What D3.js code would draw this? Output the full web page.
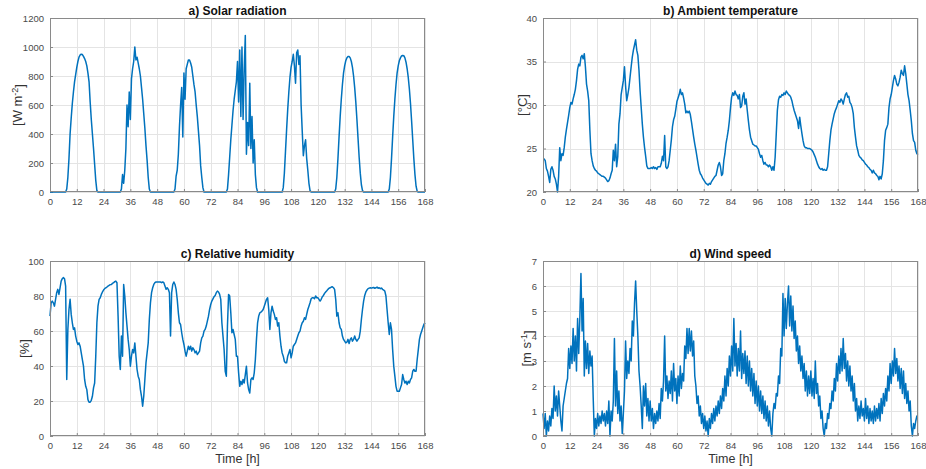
<!DOCTYPE html>
<html>
<head>
<meta charset="utf-8">
<script src="https://cdn.jsdelivr.net/npm/d3@7"></script>
<style>
  html, body { margin: 0; padding: 0; background: #fff; }
  svg { display: block; font-family: "Liberation Sans", Arial, Helvetica, sans-serif; }
</style>
</head>
<body>
<svg id="chart" width="926" height="469"></svg>
<script>
// Weekly weather record, one value every half hour (48 per day, last day also holds t = 168 h).
const hourTicks = [0, 12, 24, 36, 48, 60, 72, 84, 96, 108, 120, 132, 144, 156, 168];

const solarTicks = [0, 200, 400, 600, 800, 1000, 1200];
const tempTicks = [20, 25, 30, 35, 40];
const humidityTicks = [0, 20, 40, 60, 80, 100];
const windTicks = [0, 1, 2, 3, 4, 5, 6, 7];

// Solar radiation [W m-2]
const solarRadiation = [
  [0,0,0,0,0,0,0,0,0,0,0,0,
   0,0,0,20,100,230,400,510,610,690,760,810,
   860,900,930,945,950,948,935,920,900,870,820,760,
   620,500,400,300,190,80,10,0,0,0,0,0],
  [0,0,0,0,0,0,0,0,0,0,0,0,
   0,0,0,0,20,120,60,150,300,600,450,690,
   500,780,850,900,1000,910,930,890,850,800,720,640,
   540,440,320,220,100,20,0,0,0,0,0,0],
  [0,0,0,0,0,0,0,0,0,0,0,0,
   0,0,0,0,20,110,150,260,450,600,720,380,
   820,640,850,880,910,910,890,860,800,740,690,600,
   520,420,320,180,100,30,0,0,0,0,0,0],
  [0,0,0,0,0,0,0,0,0,0,0,0,
   0,0,0,20,120,240,360,460,560,640,700,760,
   900,620,980,520,1000,500,850,1080,260,480,320,750,
   300,520,200,360,120,30,0,0,0,0,0,0],
  [0,0,0,0,0,0,0,0,0,0,0,0,
   0,0,0,0,0,30,130,280,430,570,690,790,
   860,900,950,870,750,960,980,880,940,600,420,250,
   320,360,230,150,60,10,0,0,0,0,0,0],
  [0,0,0,0,0,0,0,0,0,0,0,0,
   0,0,0,0,20,100,230,380,520,640,740,820,
   870,905,925,935,935,925,900,860,800,720,620,500,
   370,240,130,50,10,0,0,0,0,0,0,0],
  [0,0,0,0,0,0,0,0,0,0,0,0,
   0,0,0,0,20,100,230,380,520,640,740,820,
   870,905,925,938,942,940,925,895,850,790,710,610,
   490,360,230,120,40,5,0,0,0,0,0,0,0]
];

// Ambient temperature [°C]
const ambientTemperature = [
  [23.8,23.8,23.6,22.7,22.4,21.8,21.1,22.6,22.9,22.5,21.8,21.5,
   20.9,20.0,21.8,25.1,23.6,24.4,24.2,25.1,26.3,27.2,28.0,28.8,
   29.7,30.3,30.1,30.7,31.2,31.8,32.8,34.1,34.7,34.5,35.5,35.7,
   35.3,35.9,34.4,32.4,31.6,30.5,27.1,24.4,23.6,23.0,22.7,22.5],
  [22.4,22.2,22.1,22.0,21.9,21.8,21.8,21.7,21.6,21.4,21.2,21.3,
   21.6,22.1,22.5,24.8,23.6,25.5,22.9,24.1,27.8,29.0,31.2,32.0,
   32.8,34.4,32.2,30.5,31.2,32.0,33.2,34.4,35.5,36.3,36.9,37.5,
   36.3,35.7,34.0,31.6,29.7,27.8,26.3,25.1,24.1,23.0,22.7,22.7],
  [22.7,22.8,22.7,22.9,22.7,22.8,22.6,22.9,22.9,22.9,23.3,24.1,
   23.6,26.5,22.9,22.7,22.9,23.6,24.8,26.0,27.5,28.3,28.7,29.5,
   30.4,30.8,31.2,31.8,31.2,31.4,30.8,30.1,29.1,29.3,29.1,29.3,
   28.9,28.1,27.2,26.3,25.5,24.8,24.0,23.2,22.5,22.1,21.9,21.6],
  [21.4,21.2,21.0,20.9,20.8,21.0,20.9,21.2,21.4,21.6,21.8,21.9,
   22.5,23.1,23.4,22.9,21.9,22.1,23.6,24.4,25.6,26.3,27.1,28.2,
   29.7,30.9,31.4,31.1,31.6,31.2,31.1,30.7,31.2,29.7,29.9,31.0,
   31.4,30.1,30.7,29.4,28.2,27.1,26.3,25.9,25.5,25.4,25.3,25.3],
  [25.1,24.9,24.4,24.0,24.2,23.6,23.2,23.4,23.1,23.1,22.9,23.1,
   22.9,22.5,22.9,22.5,24.0,26.7,29.4,30.6,31.0,30.9,31.2,31.1,
   31.4,31.2,31.6,31.4,31.2,31.1,30.9,30.5,29.9,29.4,29.0,28.6,
   28.2,27.3,28.6,27.6,26.7,25.9,25.3,25.1,25.1,25.0,25.0,25.0],
  [24.9,24.8,24.6,24.3,24.0,23.6,23.2,22.9,22.7,22.6,22.7,22.5,
   22.6,22.5,22.5,22.9,24.4,25.9,27.1,27.8,28.4,29.0,29.4,29.7,
   30.1,30.5,30.3,30.7,30.5,30.1,30.7,31.2,31.4,30.9,31.0,30.3,
   30.1,29.7,29.0,27.4,26.3,25.3,24.8,24.2,24.0,23.9,23.7,23.6],
  [23.4,23.2,23.1,22.9,22.8,22.6,22.5,22.2,22.5,22.2,22.1,21.9,
   21.8,21.4,21.8,21.5,22.1,23.6,25.9,27.1,27.4,27.8,29.7,30.7,
   31.2,32.0,32.8,33.4,33.0,32.4,32.2,32.6,33.2,34.0,33.6,33.4,
   34.5,33.6,32.4,31.2,30.5,29.4,28.2,26.7,25.9,25.7,24.8,24.4,24.3]
];

// Relative humidity [%]
const relativeHumidity = [
  [68.5,76.1,77.1,76.1,74.2,78.1,81.9,83.8,80.9,84.7,88.5,89.9,
   90.5,89.9,85.7,32.3,60.9,72.3,78.1,69.5,64.7,60.9,61.8,57.1,
   54.2,52.3,53.2,51.3,47.5,43.7,39.9,32.3,28.4,26.5,20.8,19.3,
   19.3,20.4,22.7,27.5,30.3,45.6,64.7,74.2,78.1,79.0,80.9,82.3],
  [83.4,84.2,84.7,85.1,85.7,86.1,86.5,86.6,87.2,87.6,88.2,88.5,
   87.6,68.5,45.6,38.0,57.1,45.6,86.6,80.0,70.4,62.8,55.2,49.4,
   39.9,45.6,49.4,47.5,53.2,45.6,38.0,34.2,32.3,26.5,22.7,17.0,
   22.7,32.3,41.8,47.5,53.2,66.6,76.1,81.9,84.7,86.6,87.6,88.0],
  [88.0,88.0,88.0,88.0,87.6,88.0,87.6,85.7,83.8,84.7,83.8,81.9,
   57.1,81.9,86.6,88.0,86.6,83.8,78.1,70.4,64.7,63.7,59.0,55.2,
   52.3,48.5,45.6,48.5,51.3,49.4,51.3,48.5,50.4,49.4,47.5,48.5,
   46.6,47.5,48.5,53.2,56.1,57.1,59.9,60.9,62.8,65.6,68.5,72.3],
  [75.2,77.1,78.4,79.6,80.3,81.9,82.8,82.3,80.9,78.1,64.7,57.1,
   49.4,37.0,34.2,62.8,80.9,80.0,70.4,59.0,60.9,58.0,55.2,45.6,
   45.6,36.1,28.4,31.3,29.4,32.3,30.3,35.1,39.9,30.3,26.5,24.6,
   32.3,33.2,32.3,36.1,43.7,55.2,64.7,68.5,70.4,70.8,71.4,72.3],
  [74.2,76.1,78.1,79.0,72.3,60.9,70.4,74.2,71.4,69.5,66.6,67.6,
   62.8,64.7,57.1,51.3,47.5,45.6,42.7,41.8,41.8,45.6,47.5,49.4,
   44.7,47.5,51.3,52.3,53.2,55.2,57.1,59.0,59.9,62.8,64.7,65.6,
   67.6,66.6,69.5,72.3,74.2,76.1,78.4,79.0,79.0,78.4,80.0,79.0],
  [79.0,78.1,77.1,78.1,79.6,80.3,81.5,82.3,83.0,83.8,84.4,84.7,
   85.1,85.3,84.7,83.8,78.1,68.5,70.4,64.7,61.8,60.9,57.1,55.2,
   54.2,53.2,53.6,55.2,52.9,55.2,56.1,54.2,55.2,57.1,55.2,54.2,
   55.2,56.1,59.9,66.6,72.3,77.1,80.3,82.3,83.4,84.2,84.5,84.7],
  [84.5,84.7,84.9,84.4,84.7,85.1,84.4,84.7,84.2,84.5,83.8,83.4,
   82.8,80.0,72.3,64.7,58.0,64.7,60.9,49.4,39.9,34.2,28.4,25.6,
   25.6,25.6,27.5,29.4,35.1,32.3,30.3,31.3,29.4,31.3,30.3,32.3,
   33.2,37.0,38.0,37.0,37.0,43.7,49.4,55.2,58.0,59.9,61.8,63.7,64.7]
];

// Wind speed [m s-1]
const windSpeed = [
  [0.9,0.3,0.9,0.0,0.6,0.2,0.8,0.4,1.1,0.7,2.0,1.0,
   1.6,0.8,1.8,1.2,0.6,0.2,1.2,1.5,1.8,2.1,2.3,3.5,
   2.7,3.6,2.9,4.3,3.0,4.0,2.6,4.7,3.3,4.7,6.5,4.2,
   5.5,2.4,3.8,2.7,3.7,2.5,3.4,2.8,3.2,1.5,0.0,0.7],
  [0.3,0.9,0.4,0.8,0.5,1.0,0.6,0.9,0.4,1.0,0.5,1.4,
   0.0,1.0,0.6,1.4,3.9,1.2,2.6,0.9,1.8,0.6,1.2,0.1,
   0.9,1.8,3.8,2.3,3.0,2.5,3.5,3.0,4.6,4.0,5.3,6.2,
   5.0,4.0,2.6,2.0,1.2,0.3,2.0,1.2,2.1,0.8,1.5,0.6],
  [1.4,0.6,1.1,0.3,0.9,0.5,1.0,0.6,1.3,0.7,1.9,1.4,
   2.2,4.0,1.8,2.4,1.5,2.2,1.7,2.6,1.4,2.9,1.8,2.3,
   1.3,2.4,1.6,2.8,1.9,2.5,2.2,3.6,3.1,4.3,3.3,4.3,
   3.4,4.2,3.2,3.8,2.4,2.0,1.3,1.6,0.8,1.2,0.5,0.9],
  [0.3,0.8,0.2,0.6,0.0,0.7,0.3,0.9,0.5,1.1,0.6,1.2,
   0.8,1.4,0.9,1.6,1.1,1.9,1.4,2.4,1.6,2.7,2.0,3.2,
   2.4,3.6,2.6,4.7,2.8,3.7,2.4,3.5,2.6,4.2,2.3,3.3,
   2.5,3.4,2.1,3.2,2.0,3.0,1.8,2.7,1.6,2.5,1.3,2.2],
  [1.2,2.0,1.0,1.8,0.9,1.6,0.7,1.4,0.6,1.2,0.4,1.0,
   0.3,0.0,0.9,1.3,1.1,1.7,1.6,2.4,2.1,3.5,3.2,5.7,
   4.0,5.5,4.3,5.3,6.0,4.4,5.6,4.2,5.2,3.9,4.6,3.4,
   4.0,2.9,3.6,2.6,3.2,2.3,2.9,1.8,2.6,1.6,2.4,1.7],
  [2.6,1.6,2.3,1.5,3.0,1.7,2.1,1.2,1.6,0.7,1.0,0.3,
   0.0,0.5,0.3,0.9,0.7,1.3,1.1,1.8,1.4,2.3,1.8,2.9,
   2.2,3.2,2.5,3.5,2.6,3.9,2.7,3.3,2.2,3.0,2.0,2.8,
   1.8,2.4,1.4,2.1,1.0,1.5,0.6,1.2,0.7,1.4,0.8,1.1],
  [0.6,1.5,0.7,1.2,0.5,1.1,0.6,1.0,0.5,1.2,0.6,1.1,
   0.7,1.3,0.6,1.5,0.9,1.7,1.2,1.9,1.4,2.4,1.8,2.9,
   2.1,3.0,2.4,3.5,2.5,3.1,2.2,2.8,1.9,2.7,1.7,2.6,
   1.5,2.1,1.3,1.8,1.0,1.4,0.4,0.0,0.5,0.3,0.6,0.8,0.8]
];

// Turn the per-day rows into [hour, value] pairs.
function toSeries(days) {
  const pts = [];
  days.forEach((row, d) => row.forEach((v, j) => pts.push([d * 24 + j * 0.5, v])));
  return pts;
}

const svg = d3.select("#chart");
const lineColor = "#0072BD";
const frameColor = "#8a8a8a";
const gridColor = "#e4e4e4";
const labelColor = "#4a4a4a";

function drawPanel(p) {
  const x = d3.scaleLinear().domain([0, 168]).range([p.left, p.right]);
  const y = d3.scaleLinear().domain(p.yDomain).range([p.bottom, p.top]);
  const g = svg.append("g");

  // grid
  g.append("g").selectAll("line.vx").data(hourTicks).join("line")
    .attr("x1", d => Math.round(x(d)) + 0.5).attr("x2", d => Math.round(x(d)) + 0.5)
    .attr("y1", p.top).attr("y2", p.bottom)
    .attr("stroke", gridColor).attr("stroke-width", 1);
  g.append("g").selectAll("line.hy").data(p.yTicks).join("line")
    .attr("x1", p.left).attr("x2", p.right)
    .attr("y1", d => Math.round(y(d)) + 0.5).attr("y2", d => Math.round(y(d)) + 0.5)
    .attr("stroke", gridColor).attr("stroke-width", 1);

  // axes with inward ticks
  const xAxis = d3.axisBottom(x).tickValues(hourTicks).tickSize(-3).tickPadding(7).tickFormat(d3.format("d"));
  const yAxis = d3.axisLeft(y).tickValues(p.yTicks).tickSize(-3).tickPadding(6).tickFormat(d3.format("d"));
  const xa = g.append("g").attr("transform", `translate(0,${p.bottom})`).call(xAxis);
  const ya = g.append("g").attr("transform", `translate(${p.left},0)`).call(yAxis);
  [xa, ya].forEach(a => {
    a.select(".domain").remove();
    a.selectAll(".tick line").attr("stroke", frameColor);
    a.selectAll(".tick text").attr("fill", labelColor)
      .attr("font-size", "9.5px").attr("font-family", "Liberation Sans, Arial, sans-serif");
  });
  xa.selectAll(".tick text").attr("dy", "0.71em").attr("y", 6);

  // data line
  const line = d3.line().x(d => x(d[0])).y(d => y(d[1]));
  g.append("path").datum(toSeries(p.values))
    .attr("d", line).attr("fill", "none")
    .attr("stroke", lineColor).attr("stroke-width", 1.5).attr("stroke-linejoin", "round");

  // box
  g.append("rect")
    .attr("x", p.left + 0.5).attr("y", p.top + 0.5)
    .attr("width", p.right - p.left - 1).attr("height", p.bottom - p.top - 1)
    .attr("fill", "none").attr("stroke", frameColor).attr("stroke-width", 1);

  // title
  g.append("text").attr("x", (p.left + p.right) / 2).attr("y", p.top - 3)
    .attr("text-anchor", "middle").attr("font-weight", "bold").attr("font-size", "12px")
    .attr("fill", "#111").text(p.title);

  // y label (with optional superscript)
  const yl = g.append("text")
    .attr("transform", `translate(${p.yLabelX},${(p.top + p.bottom) / 2}) rotate(-90)`)
    .attr("text-anchor", "middle").attr("dy", "0.35em")
    .attr("font-size", "13px").attr("fill", "#333");
  yl.append("tspan").text(p.yLabel[0]);
  if (p.yLabel[1]) {
    yl.append("tspan").attr("dy", "-0.45em").attr("font-size", "9px").text(p.yLabel[1]);
    yl.append("tspan").attr("dy", "0.45em").text(p.yLabel[2]);
  }

  if (p.xLabel) {
    g.append("text").attr("x", (p.left + p.right) / 2).attr("y", 463)
      .attr("text-anchor", "middle").attr("font-size", "12.5px").attr("fill", "#333")
      .text(p.xLabel);
  }
}

drawPanel({
  title: "a) Solar radiation", values: solarRadiation,
  left: 50, right: 425, top: 18, bottom: 192,
  yDomain: [0, 1200], yTicks: solarTicks,
  yLabel: ["[W m", "-2", "]"], yLabelX: 17.5
});
drawPanel({
  title: "b) Ambient temperature", values: ambientTemperature,
  left: 543, right: 918, top: 18, bottom: 192,
  yDomain: [20, 40], yTicks: tempTicks,
  yLabel: ["[°C]"], yLabelX: 522
});
drawPanel({
  title: "c) Relative humidity", values: relativeHumidity,
  left: 50, right: 425, top: 261, bottom: 436,
  yDomain: [0, 100], yTicks: humidityTicks,
  yLabel: ["[%]"], yLabelX: 24, xLabel: "Time [h]"
});
drawPanel({
  title: "d) Wind speed", values: windSpeed,
  left: 543, right: 918, top: 261, bottom: 436,
  yDomain: [0, 7], yTicks: windTicks,
  yLabel: ["[m s", "-1", "]"], yLabelX: 526.5, xLabel: "Time [h]"
});
</script>
</body>
</html>
